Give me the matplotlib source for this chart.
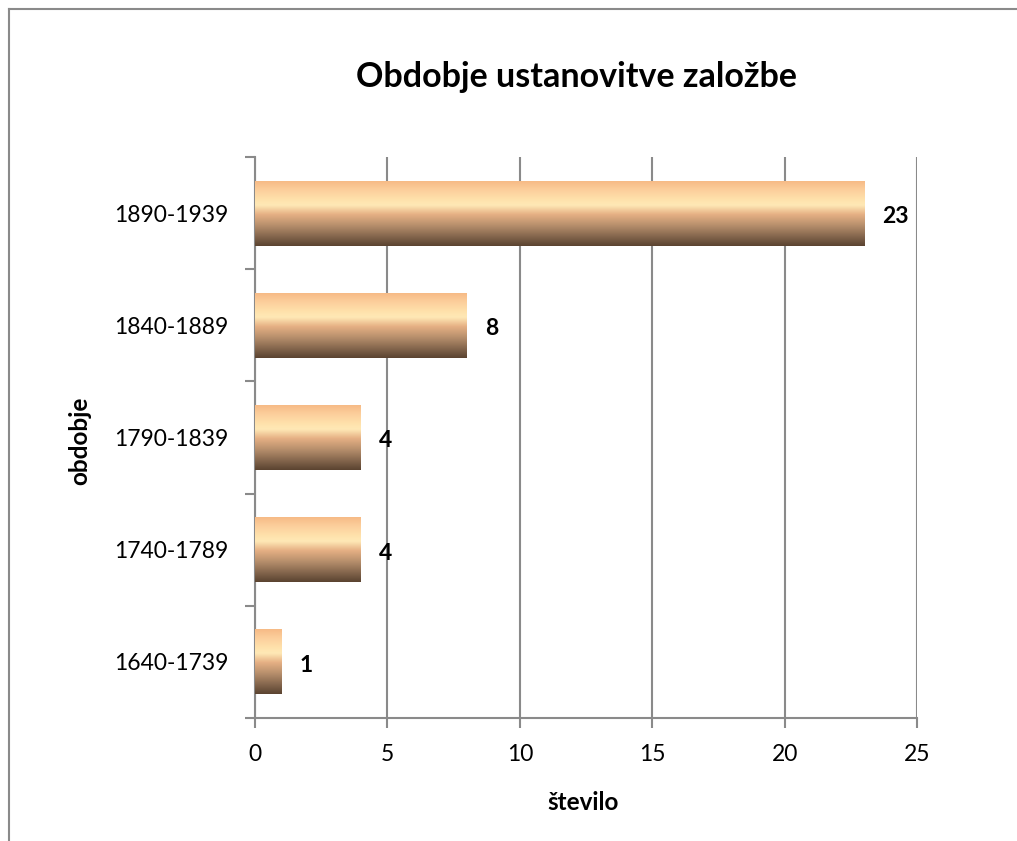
import numpy as np
import matplotlib
matplotlib.use("Agg")
import matplotlib.pyplot as plt
from matplotlib.colors import LinearSegmentedColormap
from matplotlib.lines import Line2D

plt.rcParams['font.family'] = ['Lato', 'DejaVu Sans']

categories = ['1640-1739', '1740-1789', '1790-1839', '1840-1889', '1890-1939']
values = [1, 4, 4, 8, 23]
x_ticks = [0, 5, 10, 15, 20, 25]

title = 'Obdobje ustanovitve založbe'
xlabel = 'število'
ylabel = 'obdobje'

W, H = 1017, 841
fig = plt.figure(figsize=(W / 100, H / 100), dpi=100)
ax = fig.add_axes([255 / W, 1 - 718 / H, (917 - 255) / W, (718 - 157) / H])

grey = '#8a8a8a'
ypos = np.arange(len(categories))
bar_h = 0.58

bars = ax.barh(ypos, values, height=bar_h, color='none', edgecolor='none', zorder=3)

# vertical gradient: bottom dark brown -> peach -> light cream -> peach at top
cmap = LinearSegmentedColormap.from_list('bronze', [
    (0.00, '#5a4330'),
    (0.12, '#7d6048'),
    (0.30, '#b38c6a'),
    (0.48, '#e6b084'),
    (0.62, '#ffe9b6'),
    (0.70, '#ffe2ac'),
    (0.85, '#fccf9c'),
    (1.00, '#f6b883'),
])
grad = np.linspace(0, 1, 256).reshape(-1, 1)
for b in bars:
    x0, y0 = b.get_x(), b.get_y()
    w, h = b.get_width(), b.get_height()
    im = ax.imshow(grad, cmap=cmap, origin='lower', aspect='auto',
                   extent=[x0, x0 + w, y0, y0 + h], zorder=3, interpolation='bicubic')
    im.set_clip_path(b)

for y, v in zip(ypos, values):
    ax.annotate(str(v), xy=(v, y), xytext=(13, -2.5), textcoords='offset points',
                ha='left', va='center', fontsize=16.5, fontweight='bold', color='black')

ax.set_xlim(0, 25)
ax.set_ylim(-0.5, len(categories) - 0.5)
ax.set_xticks(x_ticks)
ax.set_xticklabels([str(t) for t in x_ticks], fontsize=16.5)
ax.set_yticks(ypos)
ax.set_yticklabels(categories, fontsize=16.5)
ax.set_yticks(np.arange(-0.5, len(categories), 1.0), minor=True)
ax.tick_params(axis='y', which='major', length=0, pad=19)
ax.tick_params(axis='y', which='minor', length=7, width=1.5, color=grey, direction='out')
ax.tick_params(axis='x', which='major', length=7, width=1.5, color=grey, direction='out', pad=12)

ax.grid(axis='x', color=grey, linewidth=1.5, zorder=0)
ax.set_axisbelow(True)
for s in ['top', 'right']:
    ax.spines[s].set_visible(False)
for s in ['left', 'bottom']:
    ax.spines[s].set_color(grey)
    ax.spines[s].set_linewidth(1.5)

fig.text(577 / W, 1 - 77 / H, title, ha='center', va='center',
         fontsize=24.5, fontweight='bold')
fig.text(583 / W, 1 - 803 / H, xlabel, ha='center', va='center',
         fontsize=17.5, fontweight='bold')
fig.text(80 / W, 1 - 441 / H, ylabel, ha='center', va='center', rotation=90,
         fontsize=17.5, fontweight='bold')

# outer chart border (partially cropped)
bx, by = 9 / W, 1 - 9 / H
fig.add_artist(Line2D([bx, 1.0], [by, by], color=grey, linewidth=1.5, transform=fig.transFigure))
fig.add_artist(Line2D([bx, bx], [0, by], color=grey, linewidth=1.5, transform=fig.transFigure))

fig.savefig('out.png', dpi=100, facecolor='white')
